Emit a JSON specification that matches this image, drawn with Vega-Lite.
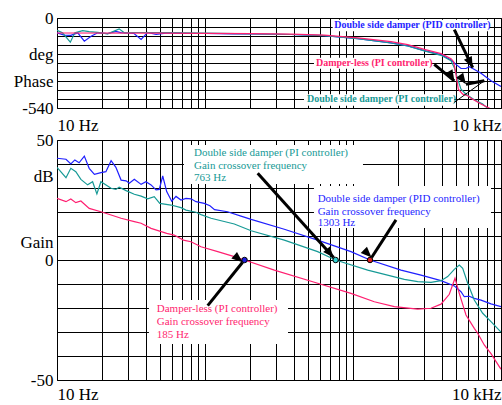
{
  "$schema": "https://vega.github.io/schema/vega-lite/v6.json",
  "padding": {"left": 12, "top": 8, "right": 0, "bottom": 0},
  "background": "white",
  "config": {
    "font": "Liberation Serif",
    "view": {"stroke": "black", "strokeWidth": 1},
    "axis": {"labelFont": "Liberation Serif", "labelFontSize": 17, "labelColor": "black", "gridColor": "black", "gridOpacity": 1, "gridWidth": 1, "domain": false, "ticks": false, "labelOverlap": false, "title": null}
  },
  "datasets": {
    "phase": [
      {"s":"PID","f":10,"v":-89},{"s":"PID","f":11.2,"v":-103},{"s":"PID","f":12.4,"v":-104},{"s":"PID","f":13.8,"v":-89},{"s":"PID","f":15.3,"v":-139},{"s":"PID","f":17,"v":-109},{"s":"PID","f":18.85,"v":-89},{"s":"PID","f":22,"v":-94},{"s":"PID","f":25,"v":-80},{"s":"PID","f":27,"v":-88},{"s":"PID","f":29.3,"v":-89},{"s":"PID","f":33,"v":-92},{"s":"PID","f":37,"v":-129},{"s":"PID","f":41,"v":-86},{"s":"PID","f":46.7,"v":-99},{"s":"PID","f":56,"v":-89},{"s":"PID","f":70,"v":-92},{"s":"PID","f":100,"v":-93},{"s":"PID","f":157,"v":-95},{"s":"PID","f":205,"v":-96},{"s":"PID","f":381,"v":-99},{"s":"PID","f":640,"v":-106},{"s":"PID","f":1076,"v":-124},{"s":"PID","f":1806,"v":-149},{"s":"PID","f":2343,"v":-167},{"s":"PID","f":3033,"v":-196},{"s":"PID","f":3932,"v":-220},{"s":"PID","f":4594,"v":-252},{"s":"PID","f":4966,"v":-278},{"s":"PID","f":5366,"v":-303},{"s":"PID","f":5800,"v":-303},{"s":"PID","f":6106,"v":-292},{"s":"PID","f":6437,"v":-303},{"s":"PID","f":7327,"v":-332},{"s":"PID","f":8558,"v":-377},{"s":"PID","f":10000,"v":-411},
      {"s":"PI","f":10,"v":-74},{"s":"PI","f":10.9,"v":-89},{"s":"PI","f":12.3,"v":-145},{"s":"PI","f":13.2,"v":-89},{"s":"PI","f":14.9,"v":-76},{"s":"PI","f":16.5,"v":-82},{"s":"PI","f":18.85,"v":-86},{"s":"PI","f":22,"v":-95},{"s":"PI","f":26.3,"v":-65},{"s":"PI","f":28.5,"v":-89},{"s":"PI","f":33,"v":-87},{"s":"PI","f":41,"v":-87},{"s":"PI","f":56,"v":-88},{"s":"PI","f":100,"v":-91},{"s":"PI","f":205,"v":-95},{"s":"PI","f":381,"v":-99},{"s":"PI","f":640,"v":-106},{"s":"PI","f":1076,"v":-124},{"s":"PI","f":1806,"v":-150},{"s":"PI","f":2343,"v":-168},{"s":"PI","f":3033,"v":-197},{"s":"PI","f":3932,"v":-224},{"s":"PI","f":4594,"v":-256},{"s":"PI","f":4836,"v":-298},{"s":"PI","f":5099,"v":-367},{"s":"PI","f":5366,"v":-427},{"s":"PI","f":5800,"v":-457},{"s":"PI","f":6599,"v":-491},{"s":"PI","f":7522,"v":-516},{"s":"PI","f":8131,"v":-542},{"s":"PI","f":10000,"v":-560},
      {"s":"DL","f":10,"v":-90},{"s":"DL","f":50,"v":-91},{"s":"DL","f":100,"v":-92},{"s":"DL","f":205,"v":-94},{"s":"DL","f":381,"v":-97},{"s":"DL","f":640,"v":-103},{"s":"DL","f":1076,"v":-119},{"s":"DL","f":1806,"v":-142},{"s":"DL","f":2343,"v":-160},{"s":"DL","f":3033,"v":-188},{"s":"DL","f":3932,"v":-214},{"s":"DL","f":4594,"v":-244},{"s":"DL","f":4790,"v":-262},{"s":"DL","f":4966,"v":-340},{"s":"DL","f":5147,"v":-427},{"s":"DL","f":5510,"v":-457},{"s":"DL","f":5957,"v":-466},{"s":"DL","f":6270,"v":-482},{"s":"DL","f":7327,"v":-516},{"s":"DL","f":8558,"v":-546},{"s":"DL","f":10000,"v":-575}
    ],
    "gain": [
      {"s":"PID","f":10,"v":42.4},{"s":"PID","f":11.5,"v":42},{"s":"PID","f":12.4,"v":40},{"s":"PID","f":13.2,"v":41.7},{"s":"PID","f":14.1,"v":40.5},{"s":"PID","f":15.3,"v":43.3},{"s":"PID","f":16.5,"v":38.2},{"s":"PID","f":17.9,"v":35.7},{"s":"PID","f":19.8,"v":36.4},{"s":"PID","f":21.4,"v":36.8},{"s":"PID","f":23.2,"v":41.4},{"s":"PID","f":25,"v":38.6},{"s":"PID","f":27.1,"v":33.3},{"s":"PID","f":29.3,"v":33},{"s":"PID","f":30.8,"v":32},{"s":"PID","f":33.3,"v":33.6},{"s":"PID","f":37,"v":31.5},{"s":"PID","f":39.9,"v":32.6},{"s":"PID","f":43.2,"v":31.3},{"s":"PID","f":46.7,"v":29.2},{"s":"PID","f":49.1,"v":29.4},{"s":"PID","f":51.8,"v":35},{"s":"PID","f":55.1,"v":28.5},{"s":"PID","f":59.6,"v":24.5},{"s":"PID","f":63.7,"v":26.5},{"s":"PID","f":68.8,"v":25},{"s":"PID","f":74.4,"v":25.7},{"s":"PID","f":80.4,"v":25.5},{"s":"PID","f":87,"v":24.3},{"s":"PID","f":98.9,"v":23.6},{"s":"PID","f":108,"v":22.6},{"s":"PID","f":116,"v":21},{"s":"PID","f":142,"v":20.1},{"s":"PID","f":175,"v":18.3},{"s":"PID","f":205,"v":16.9},{"s":"PID","f":343.5,"v":12.8},{"s":"PID","f":577,"v":8.3},{"s":"PID","f":969,"v":3.5},{"s":"PID","f":1303,"v":0},{"s":"PID","f":2110,"v":-4.2},{"s":"PID","f":2881,"v":-6.3},{"s":"PID","f":3932,"v":-8.6},{"s":"PID","f":4836,"v":-10.8},{"s":"PID","f":5366,"v":-13.2},{"s":"PID","f":5649,"v":-15.3},{"s":"PID","f":6106,"v":-15.1},{"s":"PID","f":6599,"v":-16},{"s":"PID","f":7327,"v":-16.7},{"s":"PID","f":8558,"v":-18.3},{"s":"PID","f":10000,"v":-19.4},
      {"s":"PI","f":10,"v":38.6},{"s":"PI","f":11.5,"v":34.3},{"s":"PI","f":12.4,"v":38.2},{"s":"PI","f":13.4,"v":36.8},{"s":"PI","f":14.5,"v":33.6},{"s":"PI","f":16.1,"v":31.3},{"s":"PI","f":17.4,"v":32.6},{"s":"PI","f":18.6,"v":27.5},{"s":"PI","f":19.8,"v":32.6},{"s":"PI","f":23.2,"v":29.9},{"s":"PI","f":25,"v":29.4},{"s":"PI","f":26.3,"v":30.3},{"s":"PI","f":29.3,"v":28.9},{"s":"PI","f":33.3,"v":27.4},{"s":"PI","f":37,"v":26.6},{"s":"PI","f":41,"v":25.5},{"s":"PI","f":45.4,"v":26.4},{"s":"PI","f":49.5,"v":23.6},{"s":"PI","f":58.9,"v":22.9},{"s":"PI","f":68.8,"v":21.8},{"s":"PI","f":74.4,"v":20.8},{"s":"PI","f":87,"v":19.9},{"s":"PI","f":94,"v":18.9},{"s":"PI","f":109.8,"v":17.4},{"s":"PI","f":157.8,"v":15},{"s":"PI","f":205,"v":12.2},{"s":"PI","f":343.5,"v":8.3},{"s":"PI","f":577,"v":3.5},{"s":"PI","f":763,"v":0},{"s":"PI","f":1257,"v":-4.2},{"s":"PI","f":2222,"v":-8.1},{"s":"PI","f":2736,"v":-9},{"s":"PI","f":3365,"v":-9.3},{"s":"PI","f":3932,"v":-8.6},{"s":"PI","f":4364,"v":-6.9},{"s":"PI","f":4836,"v":-3.9},{"s":"PI","f":5225,"v":-2.1},{"s":"PI","f":5510,"v":-3.5},{"s":"PI","f":5957,"v":-9.7},{"s":"PI","f":6599,"v":-16.7},{"s":"PI","f":7522,"v":-22.2},{"s":"PI","f":8558,"v":-25.7},{"s":"PI","f":10000,"v":-30},
      {"s":"DL","f":10,"v":25.7},{"s":"DL","f":11.5,"v":24.3},{"s":"DL","f":12.4,"v":25.4},{"s":"DL","f":13.4,"v":23.9},{"s":"DL","f":14.5,"v":24.6},{"s":"DL","f":16.5,"v":21.5},{"s":"DL","f":19.8,"v":20.1},{"s":"DL","f":23.2,"v":18.75},{"s":"DL","f":27.1,"v":17.4},{"s":"DL","f":33.3,"v":16},{"s":"DL","f":37,"v":15.3},{"s":"DL","f":43.2,"v":13.2},{"s":"DL","f":55.1,"v":11.1},{"s":"DL","f":61.9,"v":10.4},{"s":"DL","f":71.5,"v":8.3},{"s":"DL","f":80.4,"v":7.6},{"s":"DL","f":94,"v":5.5},{"s":"DL","f":121.9,"v":3.5},{"s":"DL","f":157.8,"v":1.4},{"s":"DL","f":185,"v":0},{"s":"DL","f":294,"v":-4.2},{"s":"DL","f":577,"v":-9.7},{"s":"DL","f":969,"v":-13.9},{"s":"DL","f":1393,"v":-17.4},{"s":"DL","f":1901,"v":-19.4},{"s":"DL","f":2736,"v":-20.5},{"s":"DL","f":3365,"v":-20.1},{"s":"DL","f":3932,"v":-18.4},{"s":"DL","f":4474,"v":-14.3},{"s":"DL","f":4889,"v":-7.6},{"s":"DL","f":5225,"v":-13.9},{"s":"DL","f":5800,"v":-22.9},{"s":"DL","f":6599,"v":-28.5},{"s":"DL","f":6960,"v":-30.5},{"s":"DL","f":7709,"v":-35.4},{"s":"DL","f":8558,"v":-39},{"s":"DL","f":9739,"v":-44.4},{"s":"DL","f":10000,"v":-45.5}
    ],
    "boxTop": [
      {"f":729,"f2":8337,"v":-10,"v2":-80},
      {"f":545,"f2":3365,"v":-238,"v2":-304},
      {"f":466.7,"f2":4813,"v":-457,"v2":-526}
    ],
    "textTop": [
      {"f":747,"v":-44,"t":"Double side damper (PID controller)","s":"PID"},
      {"f":562,"v":-268,"t":"Damper-less (PI controller)","s":"DL"},
      {"f":489,"v":-486,"t":"Double side damper (PI controller)","s":"PI"}
    ],
    "arrowTop": [
      {"id":"a1","f":4836,"v":-70,"f2":6437,"v2":-298},
      {"id":"a2","f":3541,"v":-278,"f2":4836,"v2":-377},
      {"id":"a3","f":7709,"v":-377,"f2":5800,"v2":-397}
    ],
    "thinTop": [
      {"f":4836,"v":-506,"f2":7709,"v2":-377}
    ],
    "boxBot": [
      {"f":72.1,"f2":1168,"v":47.9,"v2":31.7},
      {"f":545,"f2":8558,"v":30.8,"v2":13.3},
      {"f":41.8,"f2":363.8,"v":-16.7,"v2":-35}
    ],
    "textBot": [
      {"f":84.3,"v":44.5,"t":"Double side damper (PI controller)","s":"PI"},
      {"f":84.3,"v":39.2,"t":"Gain crossover frequency","s":"PI"},
      {"f":84.3,"v":34.0,"t":"763 Hz","s":"PI"},
      {"f":577,"v":25.4,"t":"Double side damper (PID controller)","s":"PID"},
      {"f":577,"v":20.1,"t":"Gain crossover frequency","s":"PID"},
      {"f":577,"v":15.3,"t":"1303 Hz","s":"PID"},
      {"f":47.2,"v":-20.4,"t":"Damper-less (PI controller)","s":"DL"},
      {"f":47.2,"v":-25.7,"t":"Gain crossover frequency","s":"DL"},
      {"f":47.2,"v":-31.25,"t":"185 Hz","s":"DL"}
    ],
    "points": [
      {"f":185,"v":0,"s":"DL"},
      {"f":763,"v":0,"s":"PI"},
      {"f":1303,"v":0,"s":"PID"}
    ],
    "arrowBot": [
      {"id":"a4","f":227,"v":36.1,"f2":740,"v2":1.0},
      {"id":"a5","f":1952,"v":16.7,"f2":1336,"v2":1.04},
      {"id":"a6","f":104.3,"v":-19.0,"f2":179.5,"v2":-0.96}
    ]
  },
  "spacing": 32,
  "bounds": "flush",
  "vconcat": [
    {
      "width": 444,
      "height": 90,
      "encoding": {
        "x": {"field": "f", "type": "quantitative",
          "scale": {"type": "log", "domain": [10, 10000], "nice": false},
          "axis": {"values": [10,20,30,40,50,60,70,80,90,100,200,300,400,500,600,700,800,900,1000,2000,3000,4000,5000,6000,7000,8000,9000,10000],
            "labelExpr": "datum.value == 10 ? '10 Hz' : datum.value == 10000 ? '10 kHz' : ''",
            "labelPadding": 9, "labelFlush": true, "grid": true}},
        "y": {"field": "v", "type": "quantitative",
          "scale": {"domain": [-540, 0], "nice": false, "zero": false},
          "axis": {"values": [0,-54,-108,-162,-216,-270,-324,-378,-432,-486,-540],
            "labelExpr": "datum.value == 0 ? '0' : datum.value == -216 ? 'deg' : datum.value == -378 ? 'Phase' : datum.value == -540 ? '-540' : ''",
            "labelPadding": 4, "grid": true}}
      },
      "layer": [
        {"data": {"name": "boxTop"}, "mark": {"type": "rect", "fill": "white"},
          "encoding": {"x2": {"field": "f2"}, "y2": {"field": "v2"}}},
        {"data": {"name": "phase"}, "mark": {"type": "line", "clip": true, "strokeWidth": 1.2},
          "encoding": {"color": {"field": "s", "type": "nominal", "scale": {"domain": ["PID","PI","DL"], "range": ["#1f1fff","#179a96","#ff1f70"]}, "legend": null}, "detail": {"field": "s"}}},
        {"data": {"name": "textTop"}, "mark": {"type": "text", "align": "left", "baseline": "middle", "font": "Liberation Serif", "fontSize": 10, "fontWeight": "bold"},
          "encoding": {"text": {"field": "t"}, "color": {"field": "s", "type": "nominal", "scale": {"domain": ["PID","PI","DL"], "range": ["#1f1fff","#179a96","#ff1f70"]}, "legend": null}}},
        {"data": {"name": "thinTop"}, "mark": {"type": "rule", "color": "black", "strokeWidth": 1},
          "encoding": {"x2": {"field": "f2"}, "y2": {"field": "v2"}}},
        {"data": {"name": "arrowTop"}, "mark": {"type": "rule", "color": "black", "strokeWidth": 3},
          "encoding": {"x2": {"field": "f2"}, "y2": {"field": "v2"}}},
        {"data": {"name": "arrowTop"}, "mark": {"type": "point", "shape": "M0,0L-2,-0.8L-2,0.8Z", "filled": true, "color": "black", "opacity": 1, "size": 120},
          "encoding": {"x": {"field": "f2", "type": "quantitative"}, "y": {"field": "v2", "type": "quantitative"},
            "angle": {"field": "id", "type": "nominal", "scale": {"domain": ["a1","a2","a3"], "range": [64, 40, 170]}, "legend": null}}}
      ]
    },
    {
      "width": 444,
      "height": 240,
      "encoding": {
        "x": {"field": "f", "type": "quantitative",
          "scale": {"type": "log", "domain": [10, 10000], "nice": false},
          "axis": {"values": [10,20,30,40,50,60,70,80,90,100,200,300,400,500,600,700,800,900,1000,2000,3000,4000,5000,6000,7000,8000,9000,10000],
            "labelExpr": "datum.value == 10 ? '10 Hz' : datum.value == 10000 ? '10 kHz' : ''",
            "labelPadding": 6, "labelFlush": true, "grid": true}},
        "y": {"field": "v", "type": "quantitative",
          "scale": {"domain": [-50, 50], "nice": false, "zero": false},
          "axis": {"values": [50,40,35,30,20,10,7.3,0,-10,-20,-30,-40,-50],
            "labelExpr": "datum.value == 50 ? '50' : datum.value == 35 ? 'dB' : datum.value == 7.3 ? 'Gain' : datum.value == 0 ? '0' : datum.value == -50 ? '-50' : ''",
            "gridOpacity": {"condition": {"test": "datum.value == 35 || datum.value == 7.3", "value": 0}, "value": 1},
            "labelPadding": 4, "grid": true}}
      },
      "layer": [
        {"data": {"name": "boxBot"}, "mark": {"type": "rect", "fill": "white"},
          "encoding": {"x2": {"field": "f2"}, "y2": {"field": "v2"}}},
        {"data": {"name": "gain"}, "mark": {"type": "line", "clip": true, "strokeWidth": 1.2},
          "encoding": {"color": {"field": "s", "type": "nominal", "scale": {"domain": ["PID","PI","DL"], "range": ["#1f1fff","#179a96","#ff1f70"]}, "legend": null}, "detail": {"field": "s"}}},
        {"data": {"name": "textBot"}, "mark": {"type": "text", "align": "left", "baseline": "middle", "font": "Liberation Serif", "fontSize": 11},
          "encoding": {"text": {"field": "t"}, "color": {"field": "s", "type": "nominal", "scale": {"domain": ["PID","PI","DL"], "range": ["#1f1fff","#179a96","#ff1f70"]}, "legend": null}}},
        {"data": {"name": "arrowBot"}, "mark": {"type": "rule", "color": "black", "strokeWidth": 3},
          "encoding": {"x2": {"field": "f2"}, "y2": {"field": "v2"}}},
        {"data": {"name": "arrowBot"}, "mark": {"type": "point", "shape": "M0,0L-2,-0.8L-2,0.8Z", "filled": true, "color": "black", "opacity": 1, "size": 120},
          "encoding": {"x": {"field": "f2", "type": "quantitative"}, "y": {"field": "v2", "type": "quantitative"},
            "angle": {"field": "id", "type": "nominal", "scale": {"domain": ["a4","a5","a6"], "range": [49, 123, 308]}, "legend": null}}},
        {"data": {"name": "points"}, "mark": {"type": "point", "filled": true, "size": 30, "stroke": "black", "strokeWidth": 1, "opacity": 1},
          "encoding": {"fill": {"field": "s", "type": "nominal", "scale": {"domain": ["DL","PI","PID"], "range": ["#1a1ae0","#30d0d0","#e02020"]}, "legend": null}}}
      ]
    }
  ]
}
